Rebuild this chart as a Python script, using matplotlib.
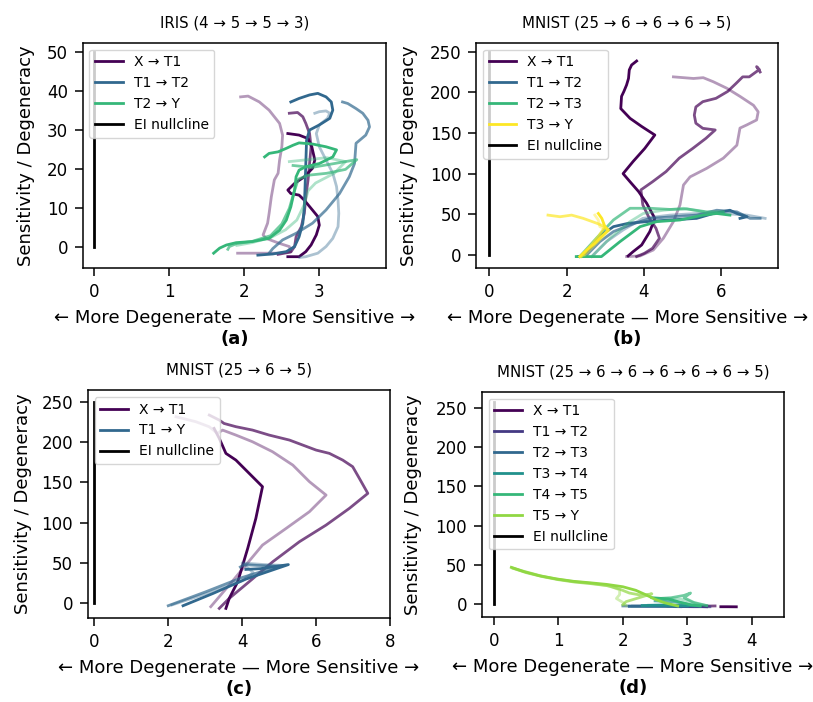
import numpy as np
import matplotlib.pyplot as plt

# ---- data: (x, y) points per run; runs drawn with alpha 1, .7, .4 ----
run_alpha = [1.0, 0.7, 0.4]

iris_title = 'IRIS (4 → 5 → 5 → 3)'
iris_labels = ['X → T1', 'T1 → T2', 'T2 → Y']
iris_x_t1 = [
    [(2.58, 29.2), (2.73, 28.8), (2.85, 27.9), (2.90, 25.8), (2.94, 22.4), (2.91, 20.3), (2.80, 18.1),
     (2.67, 16.4), (2.58, 14.7), (2.62, 13.8), (2.73, 13.4), (2.80, 12.1), (2.89, 10.0), (2.98, 7.9),
     (3.00, 5.7), (2.96, 3.2), (2.89, 0.6), (2.82, -1.1), (2.73, -2.4), (2.58, -2.4)],
    [(2.60, 34.4), (2.71, 34.6), (2.78, 33.5), (2.82, 31.8), (2.87, 29.2), (2.89, 25.8), (2.87, 21.5),
     (2.85, 17.3), (2.82, 13.0), (2.80, 8.7), (2.76, 5.3), (2.69, 2.7), (2.67, 0.2), (2.62, -1.2), (2.45, -1.8)],
    [(1.95, 38.6), (2.05, 38.8), (2.20, 37.3), (2.33, 35.2), (2.47, 31.8), (2.51, 28.8), (2.50, 25.8),
     (2.47, 22.4), (2.45, 19.0), (2.40, 17.3), (2.36, 13.0), (2.33, 8.7), (2.31, 6.2), (2.25, 3.2),
     (2.29, 2.3), (2.47, 1.0), (2.60, 0.2), (2.62, -1.1), (2.47, -1.5), (1.91, -1.5)],
]
iris_t1_t2 = [
    [(2.62, 37.3), (2.73, 38.2), (2.87, 39.1), (2.98, 39.5), (3.09, 38.6), (3.16, 37.3), (3.18, 35.2),
     (3.14, 33.1), (3.00, 31.4), (2.87, 30.1), (2.83, 27.5), (2.82, 21.5), (2.81, 15.6), (2.80, 10.4),
     (2.78, 6.2), (2.73, 2.7), (2.67, 0.2), (2.56, -1.1), (2.38, -1.7), (2.18, -2.0)],
    [(3.31, 37.3), (3.38, 36.9), (3.49, 35.6), (3.58, 34.4), (3.65, 32.6), (3.67, 30.9), (3.62, 28.8),
     (3.54, 27.5), (3.49, 26.7), (3.48, 24.1), (3.47, 21.5), (3.40, 18.1), (3.27, 13.8), (3.09, 9.6),
     (2.91, 6.2), (2.69, 3.6), (2.51, 1.9), (2.38, -0.3), (2.33, -1.5)],
    [(2.94, 34.4), (3.00, 34.8), (3.09, 35.0), (3.14, 34.4), (3.11, 33.1), (3.00, 31.4), (2.96, 29.2),
     (3.00, 25.8), (3.09, 22.4), (3.18, 19.0), (3.23, 15.6), (3.25, 12.1), (3.26, 8.7), (3.25, 5.3),
     (3.18, 2.3), (3.09, 0.2), (2.98, -1.5), (2.82, -2.4), (2.74, -2.6)],
]
iris_t2_y = [
    [(2.27, 23.2), (2.33, 24.1), (2.45, 24.5), (2.56, 25.4), (2.65, 26.2), (2.73, 26.8), (2.91, 26.5),
     (3.09, 25.8), (3.23, 25.0), (3.18, 23.2), (3.00, 21.5), (2.82, 20.7), (2.73, 19.8), (2.69, 18.1),
     (2.67, 14.7), (2.62, 10.4), (2.56, 7.0), (2.47, 4.4), (2.33, 2.3), (2.11, 1.5), (1.89, 1.2),
     (1.76, 0.6), (1.67, -0.2), (1.59, -1.5)],
    [(2.65, 21.0), (2.90, 20.5), (3.20, 21.5), (3.50, 22.5), (3.35, 20.0), (3.10, 19.0), (2.85, 18.5),
     (2.72, 17.5), (2.66, 14.0), (2.60, 10.0), (2.50, 6.0), (2.35, 3.0), (2.10, 1.5), (1.90, 1.0),
     (1.80, 0.2), (1.78, -0.5)],
    [(2.60, 22.0), (2.85, 22.5), (3.10, 23.0), (3.35, 22.0), (3.20, 19.0), (2.95, 16.5), (2.85, 14.5),
     (2.80, 11.0), (2.70, 7.0), (2.55, 4.5), (2.35, 2.5), (2.10, 1.2), (1.90, 0.5)],
]

mnist4_title = 'MNIST (25 → 6 → 6 → 6 → 5)'
mnist4_labels = ['X → T1', 'T1 → T2', 'T2 → T3', 'T3 → Y']
mnist4_x_t1 = [
    [(3.81, 238.5), (3.68, 233.6), (3.62, 227.5), (3.60, 217), (3.55, 209), (3.48, 201), (3.42, 195),
     (3.40, 180), (3.64, 168), (3.94, 158), (4.28, 147.5), (4.02, 131), (3.72, 115), (3.46, 100),
     (3.64, 90), (3.86, 78), (4.07, 63.5), (4.28, 45), (4.15, 28.7), (3.94, 12.3), (3.72, 4.1), (3.59, -1.2)],
    [(7.00, 225), (6.91, 231.6), (6.98, 228), (6.72, 219), (6.55, 219), (6.38, 211), (6.16, 201),
     (5.86, 192.6), (5.52, 188.5), (5.34, 182), (5.30, 172), (5.34, 162), (5.52, 155.7), (5.84, 153.7),
     (5.60, 143.4), (5.26, 131), (4.91, 119), (4.57, 102.5), (4.22, 90), (3.92, 80), (3.97, 61.5),
     (4.14, 45), (4.31, 32.8), (4.40, 20.5), (4.22, 8.2), (4.01, 2.0), (3.81, -2)],
    [(4.76, 219), (5.02, 218), (5.28, 217), (5.53, 218), (5.79, 213), (6.14, 205), (6.48, 195),
     (6.83, 184), (6.95, 176), (6.91, 166), (6.66, 160), (6.48, 156), (6.40, 135), (6.05, 119),
     (5.62, 106.5), (5.19, 96), (5.02, 86), (4.93, 61.5), (4.76, 41), (4.50, 20.5), (4.24, 6.1),
     (3.90, -1.2), (3.55, -2)],
]
mnist4_t1_t2 = [
    [(2.30, -2), (2.39, -2), (2.64, 10.2), (2.90, 24.6), (3.21, 34.8), (3.60, 39), (4.07, 41), (4.67, 43),
     (5.36, 45), (5.79, 51), (6.22, 55), (6.40, 51), (6.66, 47), (6.48, 45)],
    [(2.52, 0), (2.86, 16.4), (3.21, 28.7), (3.64, 36.9), (4.16, 45), (4.76, 47), (5.36, 49),
     (5.88, 55), (6.40, 53), (6.74, 45), (7.00, 45)],
    [(2.69, 0), (3.03, 16.4), (3.46, 30.7), (3.97, 45), (4.67, 49), (5.36, 51), (6.05, 51),
     (6.66, 49), (7.13, 45)],
]
mnist4_t2_t3 = [
    [(2.25, -2), (2.90, -2), (3.38, 16.4), (3.90, 34.8), (4.33, 41), (4.93, 43), (5.53, 49),
     (5.88, 51), (6.22, 49)],
    [(2.34, -2), (2.77, 20.5), (3.21, 43), (3.64, 57.4), (4.16, 57.4), (4.67, 56), (5.11, 56.6),
     (5.62, 53), (6.05, 53)],
    [(2.65, -2), (3.12, 20.5), (3.64, 41), (3.98, 51), (4.50, 55), (5.02, 57.4), (5.53, 53)],
]
mnist4_t3_y = [
    [(2.82, 51), (2.91, 45), (2.99, 34.8), (3.08, 30.7), (2.90, 22.5), (2.73, 14.3), (2.52, 6.1), (2.34, -2)],
    [(1.52, 49), (1.83, 47), (2.13, 49), (2.43, 45), (2.78, 39), (2.99, 34.8), (2.82, 22.5),
     (2.60, 10.2), (2.43, 0), (2.38, -2)],
    [(2.73, 49), (2.82, 43), (2.86, 34.8), (3.10, 30.7), (2.90, 20.5), (2.64, 8.2), (2.47, 0)],
]

mnist2_title = 'MNIST (25 → 6 → 5)'
mnist2_labels = ['X → T1', 'T1 → Y']
mnist2_x_t1 = [
    [(3.24, 216.9), (3.38, 204.5), (3.56, 185.9), (3.83, 177.6), (4.19, 161.1), (4.55, 144.6),
     (4.37, 105.3), (4.15, 68.1), (3.88, 26.8), (3.65, 6.1), (3.56, -6.3)],
    [(3.11, 233.4), (3.38, 227.2), (3.51, 223), (3.83, 219), (4.28, 214.8), (4.73, 208.6), (5.28, 202.4),
     (6.00, 190), (6.36, 185.9), (6.72, 177.6), (6.99, 169.4), (7.17, 155), (7.40, 136.3), (6.90, 117.7),
     (6.27, 97), (5.55, 76.4), (4.83, 51.6), (4.19, 26.8), (3.65, 6.1), (3.38, -6.3)],
    [(2.21, 231.3), (2.39, 229.3), (2.75, 225.1), (3.11, 218.9), (3.33, 210.7), (3.47, 214.8),
     (3.83, 208.6), (4.28, 200.3), (4.82, 188), (5.37, 171.4), (5.82, 150.8), (6.27, 134.2),
     (5.82, 113.6), (5.19, 92.9), (4.55, 72.2), (4.10, 47.5), (3.65, 22.7), (3.15, -4.2)],
]
mnist2_t1_y = [
    [(2.40, -3), (3.20, 12), (4.10, 30), (5.25, 48), (4.50, 43), (4.10, 42)],
    [(2.00, -3), (3.00, 14), (4.00, 32), (5.00, 46), (4.40, 47), (4.05, 48), (3.95, 45)],
    [(2.10, -2), (3.10, 13), (4.00, 28), (4.30, 38), (4.00, 50), (4.60, 48), (5.10, 47)],
]

mnist6_title = 'MNIST (25 → 6 → 6 → 6 → 6 → 6 → 5)'
mnist6_labels = ['X → T1', 'T1 → T2', 'T2 → T3', 'T3 → T4', 'T4 → T5', 'T5 → Y']
mnist6_x_t1 = [
    [(3.52, -3.5), (3.62, -3.5), (3.76, -3.6)],
    [(3.25, -2.5), (3.35, -2.6), (3.43, -2.5)],
    [(3.00, -2.8), (3.20, -2.8)],
]
mnist6_t1_t2 = [
    [(2.90, -3.0), (3.10, -3.0), (3.30, -3.5)],
    [(2.80, -3.2), (3.10, -3.5), (3.35, -3.5)],
    [(2.70, -3.0), (3.00, -3.0), (3.20, -3.3)],
]
mnist6_t2_t3 = [
    [(2.10, -3.0), (2.40, -3.0), (2.70, -2.8), (3.00, -3.0)],
    [(2.00, -2.5), (2.30, -2.5), (2.60, -3.0), (2.90, -3.5)],
    [(2.15, -2.5), (2.50, -2.5), (2.80, -3.0)],
]
mnist6_t3_t4 = [
    [(2.30, -2.0), (2.60, -1.5), (2.90, -2.0), (3.20, -2.5)],
    [(2.50, 4.0), (2.75, 3.0), (2.95, 1.0), (3.10, -2.0)],
    [(2.40, -1.5), (2.70, -1.0), (3.00, -2.5)],
]
mnist6_t4_t5 = [
    [(2.45, 8.0), (2.70, 6.5), (2.90, 2.0), (3.05, -1.0), (3.20, -2.5)],
    [(2.55, 7.0), (2.75, 8.0), (2.95, 11.0), (3.05, 14.0), (2.95, 8.0), (3.10, 2.0), (3.30, -2.0)],
    [(2.60, 5.0), (2.75, 7.0), (2.90, 6.0), (3.00, 4.0), (3.15, 0.0), (3.30, -2.0)],
]
mnist6_t5_y = [
    [(0.27, 46.8), (0.46, 41.5), (0.71, 36.0), (0.97, 32.0), (1.23, 29.0), (1.50, 27.0), (1.75, 25.0),
     (2.00, 22.0), (2.20, 17.5), (2.35, 12.0), (2.50, 6.0), (2.65, 1.5), (2.85, -2.5)],
    [(0.30, 45.5), (0.50, 40.0), (0.75, 35.0), (1.00, 31.0), (1.25, 28.0), (1.50, 26.0), (1.75, 23.5),
     (1.95, 19.0), (2.10, 14.0), (2.30, 11.0), (2.45, 13.0), (2.25, 8.0), (2.05, 3.0), (2.00, -1.0)],
    [(0.28, 46.0), (0.50, 41.0), (0.75, 35.5), (1.00, 31.5), (1.25, 28.5), (1.50, 26.5), (1.80, 23.0),
     (1.95, 18.0), (1.95, 12.0), (1.90, 7.0), (2.00, 2.0), (2.05, -2.0)],
]

nullcline_top = [50, 250, 250, 258]

plt.rcParams['font.family'] = 'DejaVu Sans'
plt.rcParams['xtick.labelsize'] = 12
plt.rcParams['ytick.labelsize'] = 12
plt.rcParams['axes.linewidth'] = 1.1
for a in ('xtick', 'ytick'):
    plt.rcParams[a + '.major.size'] = 6
    plt.rcParams[a + '.major.width'] = 1.1
    plt.rcParams[a + '.major.pad'] = 4.5

fig = plt.figure(figsize=(8.13, 7.02), dpi=100)
W, H = 813, 702


def box(l, r, t, b):
    return [l / W, 1 - b / H, (r - l) / W, (b - t) / H]


# axes box in pixels (left, right, top, bottom) and pixel x of the y-label's right edge
panels = [
    ((82.5, 386, 42.7, 268), 35, iris_title, iris_labels, [iris_x_t1, iris_t1_t2, iris_t2_y],
     [0.0, 1 / 3, 2 / 3], (-0.16, 3.89), (-5.3, 52.5), '(a)'),
    ((476, 778.3, 42.7, 268.3), 418, mnist4_title, mnist4_labels,
     [mnist4_x_t1, mnist4_t1_t2, mnist4_t2_t3, mnist4_t3_y],
     [0.0, 1 / 3, 2 / 3, 1.0], (-0.34, 7.47), (-16.4, 261), '(b)'),
    ((87.7, 390, 390, 618.3), 32, mnist2_title, mnist2_labels, [mnist2_x_t1, mnist2_t1_y],
     [0.0, 1 / 3], (-0.18, 8.0), (-18.6, 264.5), '(c)'),
    ((481.7, 784, 391.7, 617), 422, mnist6_title, mnist6_labels,
     [mnist6_x_t1, mnist6_t1_t2, mnist6_t2_t3, mnist6_t3_t4, mnist6_t4_t5, mnist6_t5_y],
     [0.0, 1 / 6, 2 / 6, 3 / 6, 4 / 6, 5 / 6], (-0.19, 4.5), (-16.6, 271), '(d)'),
]

for k, (px, ylab_x, title, labels, trans, cpos, xl, yl, tag) in enumerate(panels):
    rect = box(*px)
    ax = fig.add_axes(rect)
    for runs, lab, c in zip(trans, labels, cpos):
        col = plt.cm.viridis(float(c))
        for j, run in enumerate(runs):
            pts = np.array(run)
            ax.plot(pts[:, 0], pts[:, 1], color=col, alpha=run_alpha[j], lw=2,
                    label=lab if j == 0 else None)
    ax.plot([0, 0], [0, nullcline_top[k]], color='black', lw=2, label='EI nullcline')
    ax.set_xlim(*xl)
    ax.set_ylim(*yl)
    ax.set_title(title, fontsize=10.8, pad=11)
    ax.set_xlabel('← More Degenerate — More Sensitive →', fontsize=13, labelpad=6)
    ax.set_ylabel('Sensitivity / Degeneracy', fontsize=13)
    ax.yaxis.set_label_coords((ylab_x - px[0]) / (px[1] - px[0]), 0.5)
    ax.legend(loc='upper left', fontsize=10)
    l, b, w, h = rect
    fig.text(l + w / 2, b - 71 / H, tag, ha='center', va='center', fontsize=13, fontweight='bold')

fig.savefig('out.png', dpi=100)
